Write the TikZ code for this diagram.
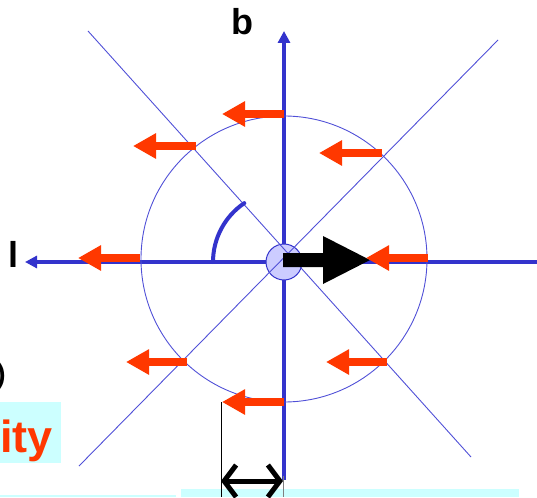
\documentclass[tikz,border=0pt]{standalone}
\usepackage{fontspec}
\setmainfont{Liberation Sans}
\usetikzlibrary{arrows.meta}
\definecolor{axisblue}{RGB}{51,51,204}
\definecolor{thinblue}{RGB}{80,80,215}
\definecolor{redarrow}{RGB}{255,56,0}
\definecolor{lavender}{RGB}{204,204,255}
\definecolor{cyanbg}{RGB}{204,255,255}
\begin{document}
\begin{tikzpicture}[x=1pt,y=-1pt,
  thinline/.style={draw=thinblue, line width=0.9pt},
  axisline/.style={draw=axisblue, line width=4pt, -{Triangle[length=12pt,width=12pt]}},
  redarr/.style={draw=redarrow, line width=8pt, -{Triangle[length=23pt,width=24pt]}},
  lbl/.style={inner sep=0pt, font=\bfseries\fontsize{36}{36}\selectfont}]
\useasboundingbox (0,0) rectangle (537,497);
% background boxes
\fill[cyanbg] (0,402) rectangle (61,463);
\fill[cyanbg] (0,495) rectangle (176,497);
\fill[cyanbg] (181,489) rectangle (519,497);
% coordinates
\coordinate (O) at (284,262);
\coordinate (xend) at (537,262);
\coordinate (xtip) at (25,262);
\coordinate (ybot) at (284,480);
\coordinate (ytip) at (284,31);
% axes
\draw[axisline] (xend) -- (xtip);
\draw[axisline] (ybot) -- (ytip);
% small circle
\draw[axisblue, fill=lavender, line width=1pt] (O) circle[radius=18pt];
% diagonals and big circle
\coordinate (d1a) at (88,31); \coordinate (d1b) at (471,457);
\coordinate (d2a) at (498,40); \coordinate (d2b) at (79,466);
\draw[thinline] (d1a) -- (d1b);
\draw[thinline] (d2a) -- (d2b);
\draw[thinline] (284,259) circle[radius=143pt];
% black arrow
\fill[black] (283,253) -- (323,253) -- (323,236) -- (370,260) -- (323,284) -- (323,267) -- (283,267) -- cycle;
% red arrows
\draw[redarr] (284,114) -- (222,114);
\draw[redarr] (196,146) -- (133,146);
\draw[redarr] (382,153) -- (319,153);
\draw[redarr] (140,258) -- (78,258);
\draw[redarr] (428,258) -- (366,258);
\draw[redarr] (187,362) -- (126,362);
\draw[redarr] (387,362) -- (326,362);
\draw[redarr] (284,402) -- (222,402);
% angle arc
\draw[axisblue, line width=4pt, line cap=round] (213,262) arc[start angle=180, end angle=124, radius=71pt];
% labels
\node[lbl, anchor=base] (blabel) at (242,35) {b};
\node[lbl, anchor=base] (llabel) at (14,267) {l};
\node[inner sep=0pt, anchor=base east, text=redarrow, font=\bfseries\fontsize{45}{45}\selectfont] (ity) at (53,452) {ity};
\node[inner sep=0pt, anchor=base east, font=\bfseries\fontsize{28}{28}\selectfont] (paren) at (6,383) {)};
% dimension
\coordinate (dimA) at (221,402);
\coordinate (dimAb) at (221,497);
\coordinate (dimBt) at (283,476);
\coordinate (dimBb) at (283,497);
\draw[black, line width=1pt] (dimA) -- (dimAb);
\draw[gray, line width=1pt] (dimBt) -- (dimBb);
\coordinate (dl) at (221,481);
\coordinate (dr) at (283,481);
\draw[black, line width=5pt, {Straight Barb[length=12pt,width=32pt]}-{Straight Barb[length=12pt,width=32pt]}] (dl) -- (dr);
\end{tikzpicture}
\end{document}
